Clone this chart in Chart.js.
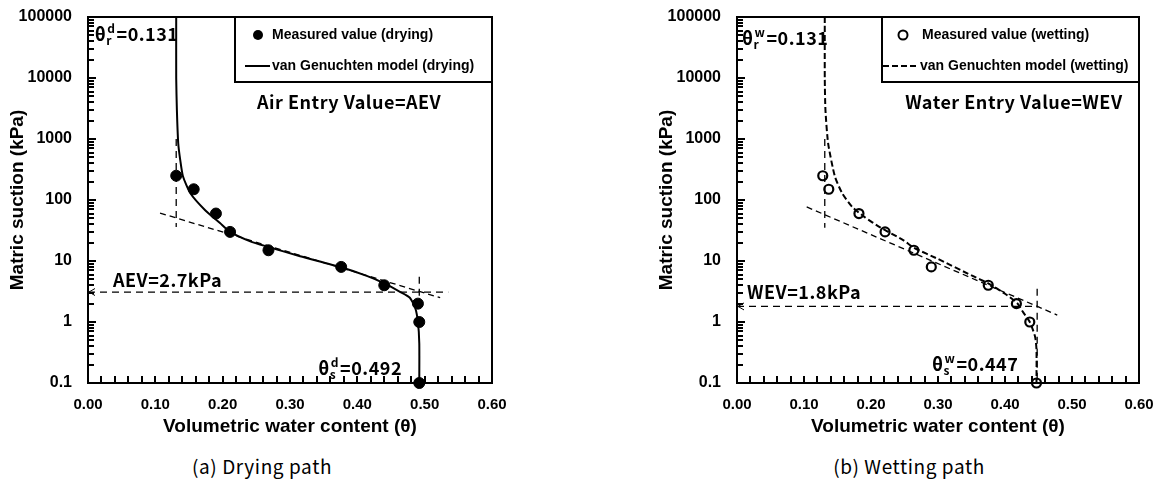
<!DOCTYPE html>
<html>
<head>
<meta charset="utf-8">
<script src="https://cdn.jsdelivr.net/npm/chart.js@4.4.1/dist/chart.umd.min.js"></script>
<style>
  body { margin: 0; background: #fff; width: 1163px; height: 479px; position: relative; overflow: hidden; }
  #c1 { position: absolute; left: 0; top: 0; }
  #c2 { position: absolute; left: 649px; top: 0; }
  .cap { position: absolute; top: 453px; font: 19px "Noto Sans CJK KR", sans-serif; color: #000;
         white-space: nowrap; transform: translateX(-50%); line-height: 26px; letter-spacing: 0.6px; }
</style>
</head>
<body>
<canvas id="c1" width="649" height="445"></canvas>
<canvas id="c2" width="514" height="445"></canvas>
<div class="cap" style="left:262px">(a) Drying path</div>
<div class="cap" style="left:909px">(b) Wetting path</div>
<script>
// axes
const xTicks = [0, 0.1, 0.2, 0.3, 0.4, 0.5, 0.6];
const yTicks = [0.1, 1, 10, 100, 1000, 10000, 100000];
const yTickLabels = ["0.1", "1", "10", "100", "1000", "10000", "100000"];

// drying path - measured
const dryTheta = [0.131, 0.157, 0.190, 0.211, 0.268, 0.376, 0.440, 0.490, 0.492, 0.492];
const drySuction = [250, 150, 60, 30, 15, 8, 4, 2, 1, 0.1];
// drying path - van Genuchten curve
const dryModelTheta = [0.131, 0.131, 0.132, 0.134, 0.137, 0.141, 0.152, 0.174, 0.196, 0.211, 0.241, 0.268, 0.315, 0.376, 0.414, 0.440, 0.464, 0.478, 0.486, 0.490, 0.492, 0.492];
const dryModelSuction = [100000, 10000, 3000, 850, 450, 245, 129, 68, 42, 30, 21, 17, 12, 7.9, 5.7, 4.3, 3.1, 2.5, 1.7, 1.0, 0.45, 0.1];
// drying path - construction lines
const dryTangentTheta = [0.107, 0.523];
const dryTangentSuction = [61, 2.5];
const dryResidTheta = [0.131, 0.131];
const dryResidSuction = [1000, 36];
const dryAevTheta = [0, 0.535];
const dryAevSuction = [3.1, 3.1];
const drySatTheta = [0.492, 0.492];
const drySatSuction = [5.5, 2.5];

// wetting path - measured
const wetTheta = [0.128, 0.137, 0.182, 0.221, 0.264, 0.290, 0.375, 0.417, 0.437, 0.447];
const wetSuction = [250, 150, 60, 30, 15, 8, 4, 2, 1, 0.1];
// wetting path - van Genuchten curve
const wetModelTheta = [0.131, 0.131, 0.132, 0.136, 0.146, 0.157, 0.172, 0.191, 0.213, 0.248, 0.264, 0.300, 0.350, 0.375, 0.400, 0.418, 0.427, 0.437, 0.445, 0.447, 0.447];
const wetModelSuction = [100000, 10000, 3000, 850, 245, 129, 77, 52, 36, 22, 16.5, 10.8, 5.8, 4.3, 2.9, 2.05, 1.45, 1.0, 0.57, 0.35, 0.1];
// wetting path - construction lines
const wetTangentTheta = [0.104, 0.478];
const wetTangentSuction = [77, 1.3];
const wetResidTheta = [0.131, 0.131];
const wetResidSuction = [1000, 35];
const wetWevTheta = [0, 0.447];
const wetWevSuction = [1.8, 1.8];
const wetSatTheta = [0.448, 0.448];
const wetSatSuction = [3.5, 0.1];

const pts = (xs, ys) => xs.map((x, i) => ({ x: x, y: ys[i] }));
const FONT = "'Liberation Sans', Arial, sans-serif";
const KFONT = "'Noto Sans CJK KR', sans-serif";
const ANNO = 18;

function guide(xs, ys, dash, w) {
  return { data: pts(xs, ys), showLine: true, borderColor: "#000", borderWidth: w,
           borderDash: dash, pointRadius: 0, tension: 0 };
}

// text with sub/superscript: θ_sub^sup=value
function thetaLabel(ctx, x, y, sub, sup, rest) {
  ctx.font = "bold " + ANNO + "px " + KFONT;
  ctx.textBaseline = "middle";
  ctx.textAlign = "left";
  ctx.fillText("θ", x, y);
  let cx = x + ctx.measureText("θ").width;
  ctx.font = "bold 12px " + KFONT;
  ctx.fillText(sub, cx, y + 6);
  const sw = ctx.measureText(sub).width;
  ctx.fillText(sup, cx + 1, y - 6);
  cx += Math.max(sw, ctx.measureText(sup).width + 1) + 1;
  ctx.font = "bold " + ANNO + "px " + KFONT;
  ctx.fillText(rest, cx, y);
}

function framePlugin(cfg) {
  return {
    id: "frame",
    afterDraw(chart) {
      const ctx = chart.ctx, a = chart.chartArea;
      const xs = chart.scales.x, ys = chart.scales.y;
      ctx.save();
      ctx.setLineDash([]);
      ctx.strokeStyle = "#000";
      // plot frame
      ctx.lineWidth = 2;
      ctx.strokeRect(a.left, a.top, a.right - a.left, a.bottom - a.top);
      // inner tick marks
      ctx.fillStyle = "#000";
      for (let i = 0; i <= 30; i++) {
        const px = Math.round(xs.getPixelForValue(i * 0.02));
        ctx.fillRect(px - 1, a.bottom - 7, 2, 7);
      }
      for (let d = 0; d < yTicks.length; d++) {
        const py = Math.round(ys.getPixelForValue(yTicks[d]));
        ctx.fillRect(a.left, py - 1, 8, 2);
        if (d < yTicks.length - 1) {
          for (let k = 2; k <= 9; k++) {
            const pm = Math.round(ys.getPixelForValue(yTicks[d] * k));
            ctx.fillRect(a.left, pm - 1, 6, 2);
          }
        }
      }
      // arrowhead on entry value line
      const ay = ys.getPixelForValue(cfg.arrowY);
      ctx.lineWidth = 1;
      ctx.beginPath();
      ctx.moveTo(a.left + 7, ay - 3.5);
      ctx.lineTo(a.left + 1, ay);
      ctx.lineTo(a.left + 7, ay + 3.5);
      ctx.stroke();
      // legend box
      ctx.lineWidth = 2;
      const lw = 257, lh = 65;
      const lx = a.right - lw, ly = a.top;
      ctx.fillStyle = "#fff";
      ctx.fillRect(lx, ly, lw, lh);
      ctx.strokeRect(lx, ly, lw, lh);
      ctx.fillStyle = "#000";
      ctx.font = "bold 14px " + FONT;
      ctx.textBaseline = "middle";
      ctx.textAlign = "left";
      const r1 = ly + 18, r2 = ly + 49;
      if (cfg.filled) {
        ctx.beginPath(); ctx.arc(lx + 23, r1, 5, 0, Math.PI * 2); ctx.fill();
        ctx.fillText(cfg.legend[0], lx + 37, r1);
        ctx.lineWidth = 2;
        ctx.beginPath(); ctx.moveTo(lx + 10, r2); ctx.lineTo(lx + 35, r2); ctx.stroke();
        ctx.fillText(cfg.legend[1], lx + 37, r2);
      } else {
        ctx.lineWidth = 2;
        ctx.beginPath(); ctx.arc(lx + 21, r1, 4.5, 0, Math.PI * 2); ctx.stroke();
        ctx.fillText(cfg.legend[0], lx + 40, r1);
        ctx.setLineDash([6, 3]);
        ctx.beginPath(); ctx.moveTo(lx + 1, r2); ctx.lineTo(lx + 36, r2); ctx.stroke();
        ctx.setLineDash([]);
        ctx.fillText(cfg.legend[1], lx + 38, r2);
      }
      // annotations
      ctx.letterSpacing = "0.5px";
      for (const t of cfg.texts) {
        const px = xs.getPixelForValue(t.x), py = ys.getPixelForValue(t.y);
        if (t.sub) {
          thetaLabel(ctx, px, py, t.sub, t.sup, t.text);
        } else {
          ctx.font = "bold " + ANNO + "px " + KFONT;
          ctx.textBaseline = "middle";
          ctx.textAlign = "left";
          ctx.fillText(t.text, px, py);
        }
      }
      ctx.restore();
    }
  };
}

function makeScales() {
  return {
    x: {
      type: "linear", min: 0, max: 0.6,
      afterBuildTicks: s => { s.ticks = xTicks.map(v => ({ value: v })); },
      afterFit: s => { s.height = 62; s.paddingLeft = 0; s.paddingRight = 0; },
      grid: { display: false, drawTicks: false },
      border: { display: false },
      ticks: { padding: 13, color: "#000", maxRotation: 0, autoSkip: false,
               font: { family: FONT, size: 15, weight: "bold" },
               callback: v => Number(v).toFixed(2) },
      title: { display: true, text: "Volumetric water content (θ)", color: "#000",
               padding: { top: 0, bottom: 7 }, font: { family: FONT, size: 19, weight: "bold" } }
    },
    y: {
      type: "logarithmic", min: 0.1, max: 100000,
      afterBuildTicks: s => { s.ticks = yTicks.map(v => ({ value: v })); },
      afterFit: s => { s.width = 88; s.paddingTop = 0; s.paddingBottom = 0; },
      grid: { display: false, drawTicks: false },
      border: { display: false },
      ticks: { padding: 16, color: "#000", autoSkip: false,
               font: { family: FONT, size: 16, weight: "bold" },
               callback: (v, i) => yTickLabels[i] },
      title: { display: true, text: "Matric suction (kPa)", color: "#000",
               padding: { top: 6, bottom: 0 }, font: { family: FONT, size: 19, weight: "bold" } }
    }
  };
}

new Chart(document.getElementById("c1"), {
  type: "scatter",
  data: {
    datasets: [
      { label: "Measured value (drying)", data: pts(dryTheta, drySuction), showLine: false,
        pointRadius: 5.5, pointBackgroundColor: "#000", pointBorderColor: "#000", clip: false },
      { label: "van Genuchten model (drying)", data: pts(dryModelTheta, dryModelSuction), showLine: true,
        borderColor: "#000", borderWidth: 2, pointRadius: 0, tension: 0.2 },
      guide(dryTangentTheta, dryTangentSuction, [6, 4], 1.3),
      guide(dryResidTheta, dryResidSuction, [7, 5], 1.3),
      guide(dryAevTheta, dryAevSuction, [7, 5], 1.3),
      guide(drySatTheta, drySatSuction, [7, 5], 1.3)
    ]
  },
  options: {
    responsive: false, animation: false,
    layout: { padding: { left: 0, top: 17, right: 157, bottom: 0 } },
    plugins: { legend: { display: false }, tooltip: { enabled: false } },
    scales: makeScales()
  },
  plugins: [framePlugin({
    filled: true, arrowY: 3.1,
    legend: ["Measured value (drying)", "van Genuchten model (drying)"],
    texts: [
      { x: 0.010, y: 52000, sub: "r", sup: "d", text: "=0.131" },
      { x: 0.251, y: 4000, text: "Air Entry Value=AEV" },
      { x: 0.037, y: 4.9, text: "AEV=2.7kPa" },
      { x: 0.342, y: 0.176, sub: "s", sup: "d", text: "=0.492" }
    ]
  })]
});

new Chart(document.getElementById("c2"), {
  type: "scatter",
  data: {
    datasets: [
      { label: "Measured value (wetting)", data: pts(wetTheta, wetSuction), showLine: false,
        pointRadius: 4.5, pointBorderWidth: 2.2, pointBackgroundColor: "rgba(0,0,0,0)",
        pointBorderColor: "#000", clip: false },
      { label: "van Genuchten model (wetting)", data: pts(wetModelTheta, wetModelSuction), showLine: true,
        borderColor: "#000", borderWidth: 2, borderDash: [6, 3], pointRadius: 0, tension: 0.2 },
      guide(wetTangentTheta, wetTangentSuction, [6, 4], 1.3),
      guide(wetResidTheta, wetResidSuction, [7, 5], 1.3),
      guide(wetWevTheta, wetWevSuction, [7, 5], 1.3),
      guide(wetSatTheta, wetSatSuction, [7, 5], 1.3)
    ]
  },
  options: {
    responsive: false, animation: false,
    layout: { padding: { left: 0, top: 17, right: 24, bottom: 0 } },
    plugins: { legend: { display: false }, tooltip: { enabled: false } },
    scales: makeScales()
  },
  plugins: [framePlugin({
    filled: false, arrowY: 1.8,
    legend: ["Measured value (wetting)", "van Genuchten model (wetting)"],
    texts: [
      { x: 0.0075, y: 45000, sub: "r", sup: "w", text: "=0.131" },
      { x: 0.251, y: 4000, text: "Water Entry Value=WEV" },
      { x: 0.015, y: 3.1, text: "WEV=1.8kPa" },
      { x: 0.291, y: 0.205, sub: "s", sup: "w", text: "=0.447" }
    ]
  })]
});
</script>
</body>
</html>
